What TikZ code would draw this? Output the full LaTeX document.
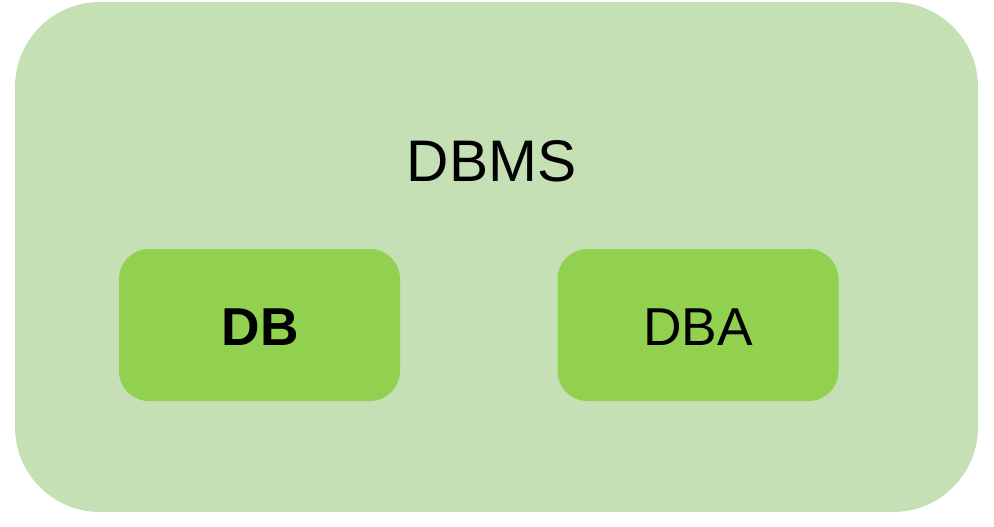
\documentclass[tikz,border=0pt]{standalone}
\usepackage{fontspec}
\setmainfont{Liberation Sans}
\definecolor{outergreen}{HTML}{C5E0B4}
\definecolor{innergreen}{HTML}{92D050}
\tikzset{
	outerbox/.style={fill=outergreen, draw=none, rounded corners=63.75pt, minimum width=722.25pt, minimum height=382.5pt, inner sep=0pt},
	innerbox/.style={fill=innergreen, draw=none, rounded corners=22.5pt, minimum width=210.75pt, minimum height=114pt, inner sep=0pt},
	boxlabel/.style={anchor=base, inner sep=0pt, font=\fontsize{40}{48}\selectfont}
}
\begin{document}
\begin{tikzpicture}[x=0.75pt, y=-0.75pt]

%% Rahmen
\useasboundingbox (0,0) rectangle (994,526);

%% Boxen
\node[outerbox] (dbms) at (496.5,257) {};
\node[innerbox] (db) at (259.5,325) {};
\node[innerbox] (dba) at (698,325) {};

%% Texte
\node[boxlabel, font=\fontsize{44}{52}\selectfont] (dbmslabel) at (491.5,181) {DBMS};
\node[boxlabel, font=\fontsize{40}{48}\selectfont\bfseries] (dblabel) at (260.5,345) {DB};
\node[boxlabel] (dbalabel) at (698,345) {DBA};

\end{tikzpicture}
\end{document}
